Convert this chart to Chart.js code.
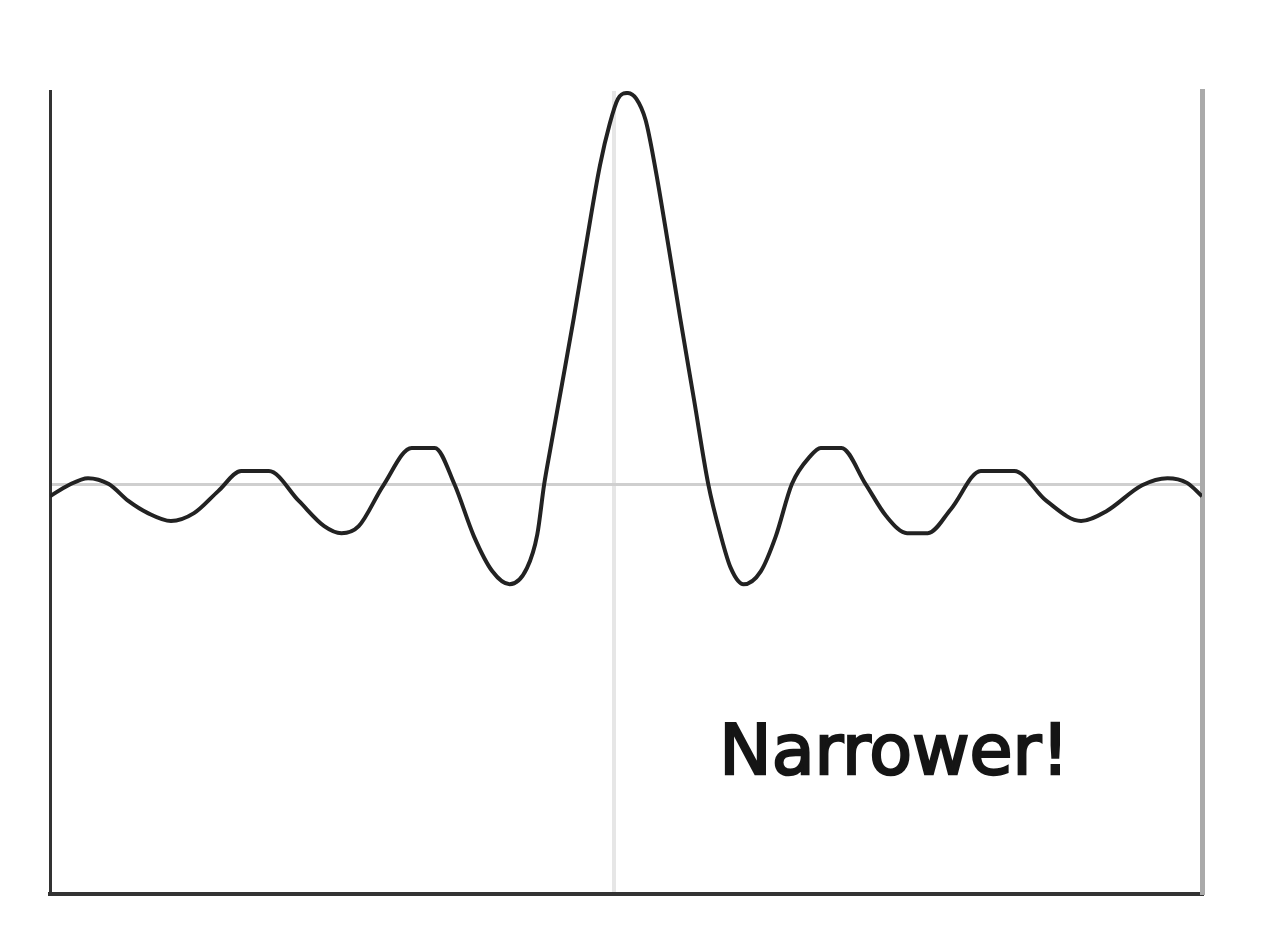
<!DOCTYPE html>
<html>
<head>
<meta charset="utf-8">
<script src="https://cdn.jsdelivr.net/npm/chart.js@4/dist/chart.umd.min.js"></script>
<style>
	html, body { margin: 0; padding: 0; background: #fff; }
	#wrap { width: 1262px; height: 942px; }
</style>
</head>
<body>
<div id="wrap"><canvas id="curve" width="1262" height="942"></canvas></div>
<script>
// curve samples (x: -5..5, y: peak ~ 1)
var xValues = [-5.0, -4.84, -4.67, -4.49, -4.32, -4.15, -3.95, -3.75, -3.54, -3.34, -3.10,
	-2.84, -2.62, -2.47, -2.32, -2.11, -1.86, -1.66, -1.49, -1.32, -1.16, -1.01,
	-0.86, -0.77, -0.71, -0.66, -0.555, -0.453, -0.355, -0.226, -0.14, -0.07, 0.01,
	0.09, 0.17, 0.25, 0.375, 0.47, 0.592, 0.714, 0.82, 0.91, 1.02, 1.17,
	1.30, 1.44, 1.60, 1.69, 1.87, 2.08, 2.26, 2.44, 2.62, 2.82, 3.08, 3.37,
	3.65, 3.95, 4.17, 4.48, 4.70, 4.87, 5.0];
var yValues = [-0.031, -0.003, 0.015, 0, -0.043, -0.074, -0.094, -0.074, -0.018, 0.033, 0.033,
	-0.043, -0.107, -0.125, -0.107, -0.005, 0.092, 0.092, 0, -0.133, -0.222, -0.255,
	-0.214, -0.128, 0, 0.084, 0.255, 0.423, 0.594, 0.811, 0.918, 0.980, 0.995,
	0.980, 0.926, 0.811, 0.594, 0.423, 0.212, 0, -0.128, -0.214, -0.255, -0.222,
	-0.133, 0, 0.071, 0.092, 0.092, 0, -0.082, -0.125, -0.125, -0.064, 0.033, 0.033,
	-0.043, -0.094, -0.069, -0.003, 0.015, 0.003, -0.031];
var xGridAt = [-0.1];
var yGridAt = [0];
var label = "Narrower!";
var labelAt = [0.81, -0.737];

window.onload = () => {

	var points = xValues.map(function (x, i) { return { x: x, y: yValues[i] }; });

	var noteText = {
		id: 'noteText',
		afterDraw: function (chart) {
			var c = chart.ctx;
			c.save();
			c.fillStyle = '#151515';
			c.font = '70px "DejaVu Sans"';
			c.textAlign = 'left';
			c.textBaseline = 'alphabetic';
			c.lineWidth = 2.5;
			c.strokeStyle = '#151515';
			var px = chart.scales.x.getPixelForValue(labelAt[0]);
			var py = chart.scales.y.getPixelForValue(labelAt[1]);
			c.fillText(label, px, py);
			c.strokeText(label, px, py);
			c.restore();
		}
	};

	new Chart(curve, {
		type: 'line',
		data: {
			datasets: [{
				data: points,
				borderColor: '#222',
				borderWidth: 4,
				pointRadius: 0,
				cubicInterpolationMode: 'monotone',
				fill: false
			}]
		},
		options: {
			responsive: false,
			animation: false,
			layout: { padding: { left: 50, top: 91, right: 60, bottom: 48 } },
			plugins: {
				legend: { display: false },
				tooltip: { enabled: false }
			},
			scales: {
				x: {
					type: 'linear',
					min: -5,
					max: 5,
					afterBuildTicks: function (scale) { scale.ticks = xGridAt.map(function (v) { return { value: v }; }); },
					ticks: { display: false },
					grid: { color: '#e6e6e6', lineWidth: 4, drawTicks: false },
					border: { color: '#333', width: 4 }
				},
				y: {
					min: -1.043,
					max: 1.0,
					afterBuildTicks: function (scale) { scale.ticks = yGridAt.map(function (v) { return { value: v }; }); },
					ticks: { display: false },
					grid: { color: '#cfcfcf', lineWidth: 3, drawTicks: false },
					border: { color: '#333', width: 3 }
				},
				right: {
					position: 'right',
					min: 0,
					max: 1,
					ticks: { display: false },
					grid: { display: false, drawTicks: false },
					border: { color: '#aaa', width: 5 }
				}
			}
		},
		plugins: [noteText]
	});
}

const curve = document.getElementById('curve');
</script>
</body>
</html>
